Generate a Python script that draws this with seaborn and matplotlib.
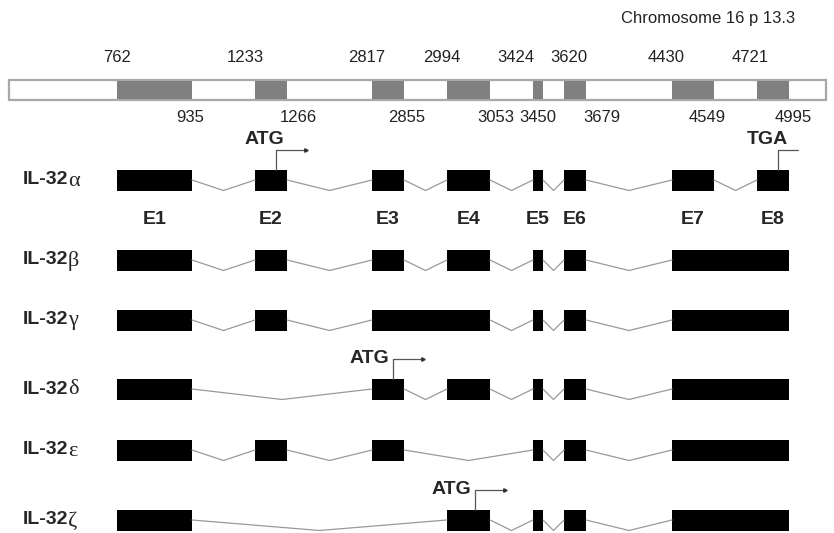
import matplotlib
matplotlib.use("Agg")
import matplotlib.pyplot as plt
import seaborn as sns

# exon coordinates on chromosome 16 (bp)
exon_names = ['E1', 'E2', 'E3', 'E4', 'E5', 'E6', 'E7', 'E8']
exon_start_bp = [762, 1233, 2817, 2994, 3424, 3620, 4430, 4721]
exon_end_bp = [935, 1266, 2855, 3053, 3450, 3679, 4549, 4995]
# schematic (not to scale) exon extents on the diagram
exon_left = [117, 255, 372, 447, 533, 564, 672, 757]
exon_right = [192, 287, 404, 490, 543, 586, 714, 789]
gene_span = [9, 826]

# isoforms: blocks of exons (first, last) joined without intron
isoform_names = ['α', 'β', 'γ', 'δ', 'ε', 'ζ']
isoform_blocks = [
    [(1, 1), (2, 2), (3, 3), (4, 4), (5, 5), (6, 6), (7, 7), (8, 8)],
    [(1, 1), (2, 2), (3, 3), (4, 4), (5, 5), (6, 6), (7, 8)],
    [(1, 1), (2, 2), (3, 4), (5, 5), (6, 6), (7, 8)],
    [(1, 1), (3, 3), (4, 4), (5, 5), (6, 6), (7, 8)],
    [(1, 1), (2, 2), (3, 3), (5, 5), (6, 6), (7, 8)],
    [(1, 1), (4, 4), (5, 5), (6, 6), (7, 8)],
]
# start codon exon per isoform (TGA only marked on alpha)
atg_exon = {'α': 2, 'δ': 3, 'ζ': 4}
tga_exon = {'α': 8}

sns.set_theme(style='white')
plt.rcParams['font.family'] = ['Liberation Sans', 'DejaVu Sans']

fig = plt.figure(figsize=(8.34, 5.33), dpi=100)
ax = fig.add_axes([0, 0, 1, 1])
ax.set_xlim(0, 834)
ax.set_ylim(533, 0)
ax.axis('off')

# chromosome bar
bar_y, bar_h = 80, 20
ax.add_patch(plt.Rectangle((gene_span[0], bar_y), gene_span[1] - gene_span[0], bar_h,
                           facecolor='white', edgecolor='#a8a8a8', lw=1.6))
ax.broken_barh([(l, r - l) for l, r in zip(exon_left, exon_right)], (bar_y + 1, bar_h - 2),
               facecolor='#808080', edgecolor='none')
ax.text(708, 18, 'Chromosome 16 p 13.3', ha='center', va='center', fontsize=12, color='#222222')

top_nudge = [0, -10, -5, -5, -17, 5, -6, -7]
bot_nudge = [-2, 11, 3, 6, -5, 16, -7, 4]
for i in range(len(exon_names)):
    ax.text(exon_left[i] + top_nudge[i], 58, str(exon_start_bp[i]), ha='center', va='center',
            fontsize=12, color='#222222')
    ax.text(exon_right[i] + bot_nudge[i], 117, str(exon_end_bp[i]), ha='center', va='center',
            fontsize=12, color='#222222')

# isoform rows
row_y = [180, 260, 320, 389, 450, 520]
box_h = 21
for name, blocks, yc in zip(isoform_names, isoform_blocks, row_y):
    top = yc - box_h / 2
    ax.text(23, yc, 'IL-32', ha='left', va='center', fontsize=14, fontweight='bold')
    ax.text(68, yc + 1, name, ha='left', va='center', fontsize=16,
            family=['Liberation Serif', 'DejaVu Serif'])
    xs = [(exon_left[a - 1], exon_right[b - 1]) for a, b in blocks]
    ax.broken_barh([(l, r - l) for l, r in xs], (top, box_h), facecolor='black', edgecolor='none')
    for (l1, r1), (l2, r2) in zip(xs[:-1], xs[1:]):
        ax.plot([r1, (r1 + l2) / 2, l2], [yc, yc + box_h / 2, yc], color='#999999', lw=0.9)

    if name in atg_exon:
        e = atg_exon[name] - 1
        x0 = exon_left[e] + 0.65 * (exon_right[e] - exon_left[e])
        y1 = top - 20
        ax.plot([x0, x0, x0 + 30], [top, y1, y1], color='#555555', lw=0.9)
        ax.plot([x0 + 30], [y1], marker='>', ms=2.5, color='#333333')
        if name == 'α':
            ax.text(x0 - 11, y1 - 10, 'ATG', ha='center', va='center', fontsize=14, fontweight='bold')
        else:
            ax.text(x0 - 4, y1, 'ATG', ha='right', va='center', fontsize=14, fontweight='bold')
    if name in tga_exon:
        e = tga_exon[name] - 1
        x0 = exon_left[e] + 0.65 * (exon_right[e] - exon_left[e])
        y1 = top - 20
        ax.plot([x0, x0, x0 + 20], [top, y1, y1], color='#555555', lw=0.9)
        ax.text(x0 - 10, y1 - 10, 'TGA', ha='center', va='center', fontsize=14, fontweight='bold')

# exon names under alpha
for i, n in enumerate(exon_names):
    ax.text((exon_left[i] + exon_right[i]) / 2, 220, n, ha='center', va='center',
            fontsize=14, fontweight='bold')

plt.savefig('out.png', dpi=100)
